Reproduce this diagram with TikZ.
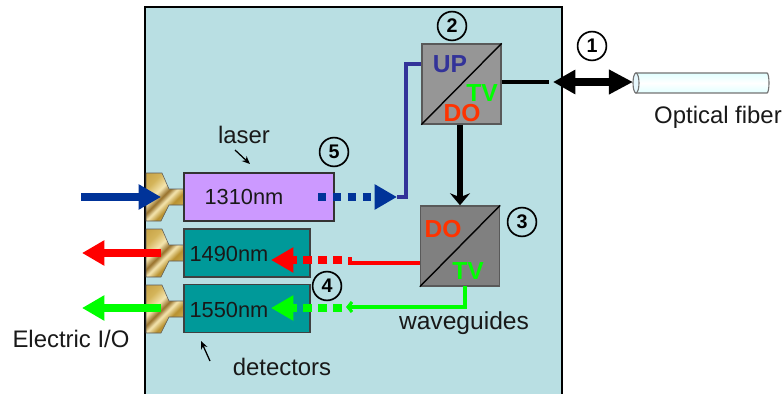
\documentclass[tikz,border=0pt]{standalone}
\usepackage{fontspec}
\setmainfont{Liberation Sans}
\usepackage{xcolor}
\usetikzlibrary{arrows.meta}
\definecolor{panelblue}{HTML}{B9DFE3}
\definecolor{laserpurple}{HTML}{CC99FF}
\definecolor{dettealfill}{HTML}{009999}
\definecolor{upblue}{HTML}{333399}
\definecolor{sigblue}{HTML}{003399}
\definecolor{dored}{HTML}{FF3300}
\definecolor{golddark}{HTML}{B8912F}
\definecolor{goldmid}{HTML}{D4B45A}
\definecolor{goldlight}{HTML}{F5E6B0}
\definecolor{goldbrown}{HTML}{96702A}
\pgfdeclareverticalshading{goldstripe}{100bp}{
	color(0bp)=(golddark);
	color(25bp)=(goldmid);
	color(38bp)=(golddark);
	color(46bp)=(goldlight);
	color(52bp)=(goldbrown);
	color(60bp)=(goldlight);
	color(72bp)=(goldmid);
	color(100bp)=(golddark)}
\tikzset{
	goldconn/.style={draw=black!65,line width=0.4pt,shading=goldstripe,shading angle=45},
	detbox/.style={draw=black!75,line width=1pt,fill=dettealfill,minimum width=3.15cm,minimum height=1.2cm,inner sep=0},
	splitbox/.style={draw=black!65,line width=1pt,minimum width=1.975cm,minimum height=2cm,inner sep=0},
	numcircle/.style={draw,circle,line width=1.2pt,minimum size=0.72cm,inner sep=0,font=\fontsize{14}{16}\selectfont\bfseries},
	textlabel/.style={font=\fontsize{17}{20}\selectfont,text=black!90,inner sep=0},
	wavelabel/.style={font=\fontsize{15.5}{18}\selectfont,text=black!90,inner sep=0},
	splitlabel/.style={font=\fontsize{17.5}{20}\selectfont\bfseries,inner sep=0},
	fatline/.style={line width=5.7pt},
	fathead/.style={-{Triangle[length=0.56cm,width=0.6cm]}},
	routeline/.style={line width=2.2pt}
}
\begin{document}
\begin{tikzpicture}[x=0.025cm,y=-0.025cm]
	\useasboundingbox (0,0) rectangle (784,394);
	\draw[fill=panelblue,line width=1pt] (145,394) -- (145,7) -- (562,7) -- (562,394);

	\foreach \y in {173,229,285}
		\path[goldconn,shift={(0,\y)}] (146,0) -- (162,0) -- (169,16) -- (184,16) -- (184,32) -- (169,32) -- (161,48) -- (146,48) -- cycle;

	\node[draw=black!80,line width=1pt,fill=laserpurple,minimum width=3.75cm,minimum height=1.2cm,inner sep=0] (laser) at (259,197) {};
	\node[detbox] (det1) at (247,253) {};
	\node[detbox] (det2) at (247,308.5) {};
	\node[splitbox,fill=black!41] (upbox) at (461.5,84) {};
	\node[splitbox,fill=black!50] (dnbox) at (460,246) {};
	\draw[line width=1pt] (upbox.south west) -- (upbox.north east);
	\draw[line width=1pt] (dnbox.south west) -- (dnbox.north east);

	\node[wavelabel] (l1310) at (244,197) {1310nm};
	\node[wavelabel] (l1490) at (229,254) {1490nm};
	\node[wavelabel] (l1550) at (229,310) {1550nm};
	\node[splitlabel,text=upblue] (lup) at (450,64) {UP};
	\node[splitlabel,text=green] (ltv) at (482,93) {TV};
	\node[splitlabel,text=dored] (ldo) at (462,113) {DO};
	\node[splitlabel,text=dored] (ldob) at (443,229) {DO};
	\node[splitlabel,text=green] (ltvb) at (468,271) {TV};

	\node[numcircle] (n1) at (592,46) {1};
	\node[numcircle] (n2) at (452,26) {2};
	\node[numcircle] (n3) at (522,222) {3};
	\node[numcircle] (n4) at (327,286) {4};
	\node[numcircle] (n5) at (334,152) {5};

	\node[textlabel] (tlaser) at (244,135) {laser};
	\node[textlabel] (tdet) at (282,367) {detectors};
	\node[textlabel,font=\fontsize{17.5}{20}\selectfont] (twave) at (464,323) {waveguides};
	\node[textlabel] (telec) at (71,339) {Electric I/O};
	\node[textlabel] (tfib) at (718,117) {Optical fiber};

	\coordinate (fibl) at (636,83);
	\draw[draw=black!55,line width=0.8pt,top color=cyan!12,bottom color=cyan!12,middle color=white] (636,73) -- (767,73) arc (-90:90:2 and 10) -- (636,93) -- cycle;
	\draw[draw=black!55,line width=0.8pt,fill=cyan!10] (fibl) ellipse (3 and 10);

	\coordinate (tieup) at (549,82);
	\coordinate (fibA) at (553,82);
	\coordinate (fibB) at (633,82);
	\draw[routeline] (upbox.east |- tieup) -- (tieup);
	\draw[fatline,{Triangle[length=0.56cm,width=0.58cm]}-{Triangle[length=0.6cm,width=0.58cm]}] (fibA) -- (fibB);
	\draw[line width=4.2pt,-{Stealth[length=0.3cm,width=0.5cm]}] (upbox.south -| dnbox) -- (dnbox.north);

	\coordinate (inA) at (81,197);
	\coordinate (inB) at (161,197);
	\coordinate (redA) at (161,253);
	\coordinate (redB) at (82,253);
	\coordinate (grnA) at (161,308);
	\coordinate (grnB) at (82,308);
	\draw[fatline,fathead,sigblue] (inA) -- (inB);
	\draw[fatline,fathead,red] (redA) -- (redB);
	\draw[fatline,fathead,green] (grnA) -- (grnB);

	\coordinate (blueS) at (318,197);
	\coordinate (blueT) at (397,197);
	\coordinate (blueK) at (406,197);
	\coordinate (redS) at (342,260);
	\coordinate (redT) at (271,260);
	\coordinate (redK) at (350,263);
	\coordinate (grnS) at (342,308);
	\coordinate (grnT) at (271,308);
	\coordinate (grnD) at (465,286);
	\coordinate (grnE) at (465,307);
	\coordinate (grnK) at (346,307);

	\draw[routeline,upblue] (upbox.west |- lup) -| (blueK) -- (blueT);
	\draw[routeline,red] (dnbox.west |- redK) -- (redK) -- ++(0,-6);
	\draw[routeline,green,-{Straight Barb[length=0.1cm,width=0.25cm]}] (grnD) -- (grnE) -- (grnK);

	\draw[fatline,fathead,sigblue,dash pattern=on 8*0.71pt off 7*0.71pt] (blueS) -- (blueT);
	\draw[fatline,fathead,red,dash pattern=on 9*0.71pt off 6*0.71pt] (redS) -- (redT);
	\draw[fatline,fathead,green,dash pattern=on 9*0.71pt off 6*0.71pt] (grnS) -- (grnT);

	\coordinate (lasA) at (235,150);
	\coordinate (lasB) at (250,164);
	\coordinate (detA) at (210,361);
	\coordinate (detB) at (201,341);
	\draw[line width=0.9pt,-{Stealth[length=0.2cm,width=0.17cm]}] (lasA) -- (lasB);
	\draw[line width=0.9pt,-{Stealth[length=0.2cm,width=0.17cm]}] (detA) -- (detB);
\end{tikzpicture}
\end{document}
